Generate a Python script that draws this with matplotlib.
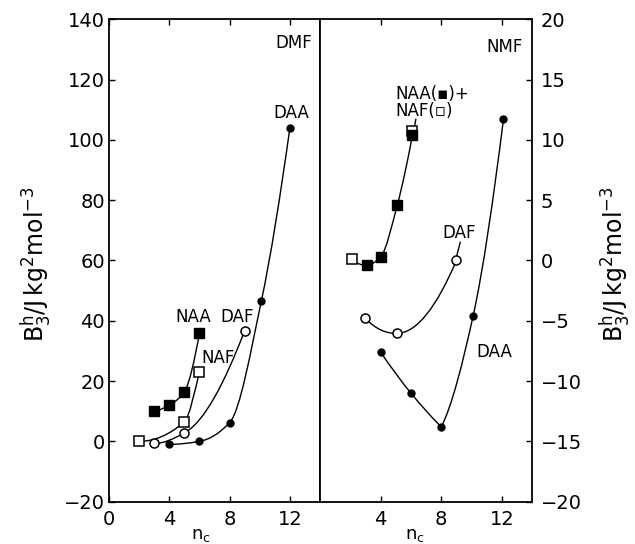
import numpy as np
import matplotlib
matplotlib.use("Agg")
import matplotlib.pyplot as plt
from matplotlib.path import Path
from matplotlib.patches import PathPatch

# values: n_c and B3h (J kg2 mol-3)
# DMF (left panel)
dmf_naa_n = [3, 4, 5, 6]
dmf_naa_b = [10, 12, 16.5, 35.8]
dmf_naf_n = [2, 5, 6]
dmf_naf_b = [0, 6.5, 23]
dmf_daf_n = [3, 5, 9]
dmf_daf_b = [-0.7, 2.8, 36.7]
dmf_daa_n = [4, 6, 8, 10.1, 12]
dmf_daa_b = [-1, 0, 6.2, 46.4, 104]

# NMF (right panel)
nmf_naa_n = [3.1, 4, 5.1, 6.1]
nmf_naa_b = [-0.4, 0.3, 4.6, 10.4]
nmf_naf_n = [2.1, 6.1]
nmf_naf_b = [0.1, 10.7]
nmf_daf_n = [3, 5.05, 9]
nmf_daf_b = [-4.8, -6.05, 0]
nmf_daa_n = [4, 6, 8, 10.1, 12.1]
nmf_daa_b = [-7.6, -11.0, -13.8, -4.6, 11.7]

left_yticks = list(range(-20, 141, 20))
right_yticks = list(range(-20, 21, 5))


def slopes(x, y):
    # monotone cubic (pchip style) tangents
    h = np.diff(x)
    d = np.diff(y) / h
    m = np.zeros(len(x))
    if len(x) == 2:
        m[:] = d[0]
        return m
    for i in range(1, len(x) - 1):
        if d[i - 1] * d[i] > 0:
            w1 = 2 * h[i] + h[i - 1]
            w2 = h[i] + 2 * h[i - 1]
            m[i] = (w1 + w2) / (w1 / d[i - 1] + w2 / d[i])
    m[0] = ((2 * h[0] + h[1]) * d[0] - h[0] * d[1]) / (h[0] + h[1])
    if np.sign(m[0]) != np.sign(d[0]):
        m[0] = 0
    m[-1] = ((2 * h[-1] + h[-2]) * d[-1] - h[-1] * d[-2]) / (h[-1] + h[-2])
    if np.sign(m[-1]) != np.sign(d[-1]):
        m[-1] = 0
    return m


def smooth(ax, x, y):
    x = np.asarray(x, float)
    y = np.asarray(y, float)
    m = slopes(x, y)
    verts = [(x[0], y[0])]
    codes = [Path.MOVETO]
    for i in range(len(x) - 1):
        h = x[i + 1] - x[i]
        verts += [(x[i] + h / 3, y[i] + m[i] * h / 3),
                  (x[i + 1] - h / 3, y[i + 1] - m[i + 1] * h / 3),
                  (x[i + 1], y[i + 1])]
        codes += [Path.CURVE4] * 3
    ax.add_patch(PathPatch(Path(verts, codes), fill=False, lw=1.0, ec="black", zorder=2))


fig = plt.figure(figsize=(6.35, 5.44), dpi=100)
ax1 = fig.add_axes([0.1717, 0.0778, 0.3323, 0.8868])
ax2 = fig.add_axes([0.5039, 0.0778, 0.3343, 0.8868])

filled_sq = dict(marker="s", ms=7, mfc="black", mec="black", ls="none", zorder=3)
open_sq = dict(marker="s", ms=6.5, mfc="white", mec="black", mew=1.1, ls="none", zorder=3)
open_ci = dict(marker="o", ms=6.5, mfc="white", mec="black", mew=1.1, ls="none", zorder=3)
filled_ci = dict(marker="o", ms=5, mfc="black", mec="black", ls="none", zorder=3)

fs = 12

# left panel
smooth(ax1, dmf_naa_n, dmf_naa_b)
smooth(ax1, dmf_naf_n, dmf_naf_b)
smooth(ax1, dmf_daf_n, dmf_daf_b)
smooth(ax1, dmf_daa_n, dmf_daa_b)
ax1.plot(dmf_naa_n, dmf_naa_b, **filled_sq)
ax1.plot(dmf_naf_n, dmf_naf_b, **open_sq)
ax1.plot(dmf_daf_n, dmf_daf_b, **open_ci)
ax1.plot(dmf_daa_n, dmf_daa_b, **filled_ci)

ax1.text(13.5, 132, "DMF", ha="right", va="center", fontsize=fs)
ax1.text(12.1, 109, "DAA", ha="center", va="center", fontsize=fs)
ax1.text(5.6, 41.4, "NAA", ha="center", va="center", fontsize=fs)
ax1.text(8.5, 41.4, "DAF", ha="center", va="center", fontsize=fs)
ax1.text(7.25, 27.6, "NAF", ha="center", va="center", fontsize=fs)

# right panel
smooth(ax2, nmf_naf_n[:1] + nmf_naa_n, nmf_naf_b[:1] + nmf_naa_b)
smooth(ax2, nmf_daf_n, nmf_daf_b)
smooth(ax2, nmf_daa_n[:3], nmf_daa_b[:3])
smooth(ax2, nmf_daa_n[2:], nmf_daa_b[2:])
ax2.plot([9.02, 9.25], [0.4, 1.5], color="black", lw=1.0)
ax2.plot([6.2, 6.32], [10.9, 11.7], color="black", lw=1.0)
ax2.plot(nmf_naf_n, nmf_naf_b, **open_sq)
ax2.plot(nmf_naa_n, nmf_naa_b, **filled_sq)
ax2.plot(nmf_daf_n, nmf_daf_b, **open_ci)
ax2.plot(nmf_daa_n, nmf_daa_b, **filled_ci)

ax2.text(13.4, 17.7, "NMF", ha="right", va="center", fontsize=fs)
ax2.text(5.0, 13.8, "NAA(\u25aa)+", ha="left", va="center", fontsize=fs)
ax2.text(5.0, 12.4, "NAF(\u25ab)", ha="left", va="center", fontsize=fs)
ax2.text(9.2, 2.3, "DAF", ha="center", va="center", fontsize=fs)
ax2.text(11.5, -7.6, "DAA", ha="center", va="center", fontsize=fs)

ax1.set_xlim(0, 14)
ax1.set_ylim(-20, 140)
ax1.set_xticks([0, 4, 8, 12])
ax1.set_yticks(left_yticks)
ax1.tick_params(direction="in", length=4, width=1, top=True, right=False,
                labelsize=14, pad=6)
ax1.tick_params(axis="y", pad=3)

ax2.set_xlim(0, 14)
ax2.set_ylim(-20, 20)
ax2.set_xticks([4, 8, 12])
ax2.set_yticks(right_yticks)
ax2.yaxis.tick_right()
ax2.tick_params(direction="in", length=4, width=1, top=True, left=False,
                labelsize=14, pad=6)
ax2.tick_params(axis="y", pad=6)

for ax in (ax1, ax2):
    for s in ax.spines.values():
        s.set_linewidth(1.3)

ylab = r"$\mathrm{B_3^h}/\mathrm{J\,kg^2mol^{-3}}$"
fig.text(36 / 635, 0.515, ylab, rotation=90, ha="center", va="center", fontsize=17)
fig.text(615 / 635, 0.515, ylab, rotation=90, ha="center", va="center", fontsize=17)
fig.text(201 / 635, 1 - 526 / 544, r"$\mathrm{n_c}$", ha="center", va="top", fontsize=13)
fig.text(415 / 635, 1 - 526 / 544, r"$\mathrm{n_c}$", ha="center", va="top", fontsize=13)

fig.savefig("out.png", dpi=100)
